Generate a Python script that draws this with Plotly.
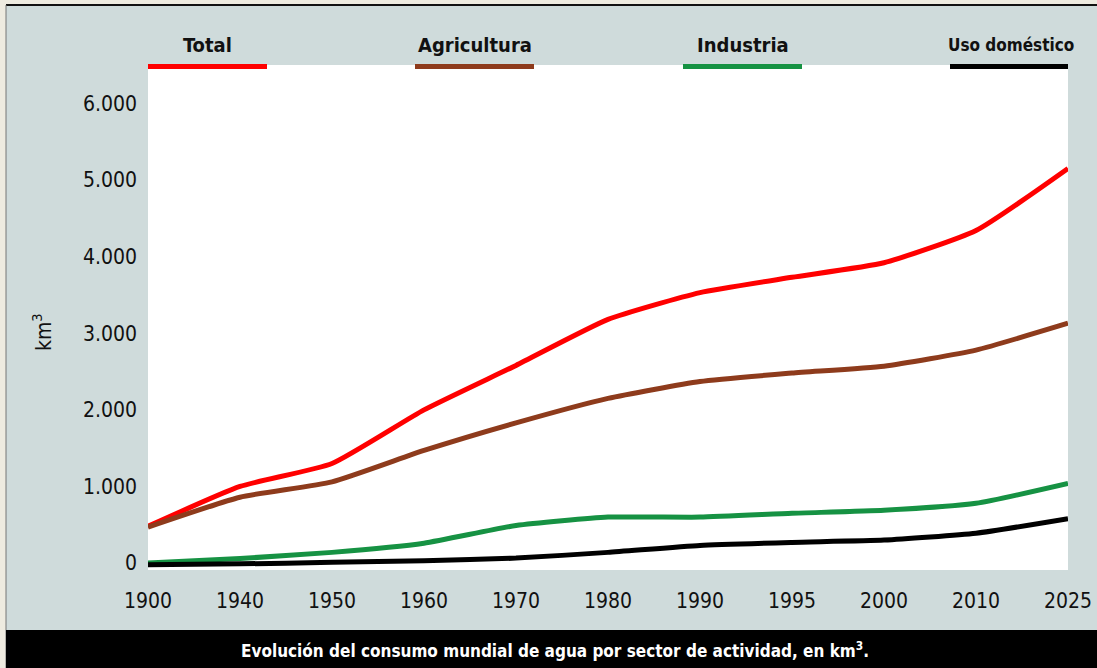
import plotly.graph_objects as go

years = ["1900", "1940", "1950", "1960", "1970", "1980", "1990", "1995", "2000", "2010", "2025"]
total = [480, 1000, 1300, 2000, 2580, 3180, 3530, 3730, 3920, 4340, 5150]
agricultura = [470, 860, 1060, 1470, 1830, 2150, 2370, 2480, 2570, 2780, 3130]
industria = [0, 60, 140, 260, 490, 600, 600, 650, 690, 780, 1040]
domestico = [-20, -10, 10, 30, 65, 140, 230, 270, 300, 390, 580]
y_ticks = [0, 1000, 2000, 3000, 4000, 5000, 6000]
y_ticktext = ["0", "1.000", "2.000", "3.000", "4.000", "5.000", "6.000"]

names = ["Total", "Agricultura", "Industria", "Uso doméstico"]
series = [total, agricultura, industria, domestico]
colors = ["#ff0000", "#8e3b1c", "#169243", "#000000"]
label_sizes = [20, 20, 20, 17]

FONT = "DejaVu Sans Condensed, Liberation Sans Narrow, Open Sans, sans-serif"
W, H = 1097, 668
L, R, T, B = 148, 1068, 65, 570

def px(x):
    return (x - L) / (R - L)

def py(y):
    return (B - y) / (B - T)

idx = list(range(len(years)))
fig = go.Figure()
for name, vals, col in zip(names, series, colors):
    fig.add_trace(go.Scatter(x=idx, y=vals, name=name, mode="lines",
                             line=dict(color=col, width=5, shape="spline", smoothing=0.5),
                             cliponaxis=True, showlegend=False))

shapes = []
annotations = []
panel = "#cfdbdb"
outer = "#eeebe0"
shapes.append(dict(type="rect", xref="paper", yref="paper", x0=px(0), x1=px(W), y0=py(0), y1=py(5),
                   fillcolor=outer, line=dict(width=0), layer="below"))
shapes.append(dict(type="rect", xref="paper", yref="paper", x0=px(0), x1=px(6), y0=py(0), y1=py(H),
                   fillcolor=outer, line=dict(width=0), layer="below"))
shapes.append(dict(type="line", xref="paper", yref="paper", x0=px(6), x1=px(W), y0=py(5), y1=py(5),
                   line=dict(color="#111111", width=2)))
shapes.append(dict(type="line", xref="paper", yref="paper", x0=px(6), x1=px(6), y0=py(5), y1=py(H),
                   line=dict(color="#777777", width=1)))
shapes.append(dict(type="rect", xref="paper", yref="paper", x0=px(6), x1=px(W), y0=py(630), y1=py(H),
                   fillcolor="#000000", line=dict(width=0)))
leg_x = [(148, 267), (415, 534), (683, 802), (950, 1068)]
for (a, b), name, col, fs in zip(leg_x, names, colors, label_sizes):
    shapes.append(dict(type="rect", xref="paper", yref="paper", x0=px(a), x1=px(b), y0=py(69), y1=py(64),
                       fillcolor=col, line=dict(width=0)))
    annotations.append(dict(xref="paper", yref="paper", x=px((a + b) / 2 + (2 if fs < 20 else 0)), y=py(45),
                            text=f"<b>{name}</b>", showarrow=False,
                            font=dict(family=FONT, size=fs, color="#111111"),
                            xanchor="center", yanchor="middle"))

annotations.append(dict(xref="paper", yref="paper", x=px(555), y=py(650),
                        text="<b>Evolución del consumo mundial de agua por sector de actividad, en km<sup>3</sup>.</b>",
                        showarrow=False, font=dict(family=FONT, size=17, color="#ffffff"),
                        xanchor="center", yanchor="middle"))
annotations.append(dict(xref="paper", yref="paper", x=px(42), y=py(332), text="km<sup>3</sup>",
                        showarrow=False, textangle=-90, font=dict(family=FONT, size=21, color="#111111"),
                        xanchor="center", yanchor="middle"))

fig.update_layout(
    width=W, height=H, autosize=False,
    margin=dict(l=L, r=W - R, t=T, b=H - B, autoexpand=False),
    paper_bgcolor=panel, plot_bgcolor="#ffffff",
    font=dict(family=FONT, size=21, color="#111111"),
    shapes=shapes, annotations=annotations,
    xaxis=dict(range=[0, 10], tickvals=idx, ticktext=years, showgrid=False, zeroline=False,
               showline=False, ticks="", ticklabelstandoff=16, fixedrange=True, automargin=False),
    yaxis=dict(range=[-90, 6500], tickvals=y_ticks, ticktext=y_ticktext, showgrid=False, zeroline=False,
               showline=False, ticks="", ticklabelstandoff=10, fixedrange=True, automargin=False),
)

post = """
document.documentElement.style.margin='0';
document.body.style.margin='0';
document.body.style.overflow='hidden';
"""
fig.write_html("out.html", config={"displayModeBar": False, "responsive": False}, post_script=post)
